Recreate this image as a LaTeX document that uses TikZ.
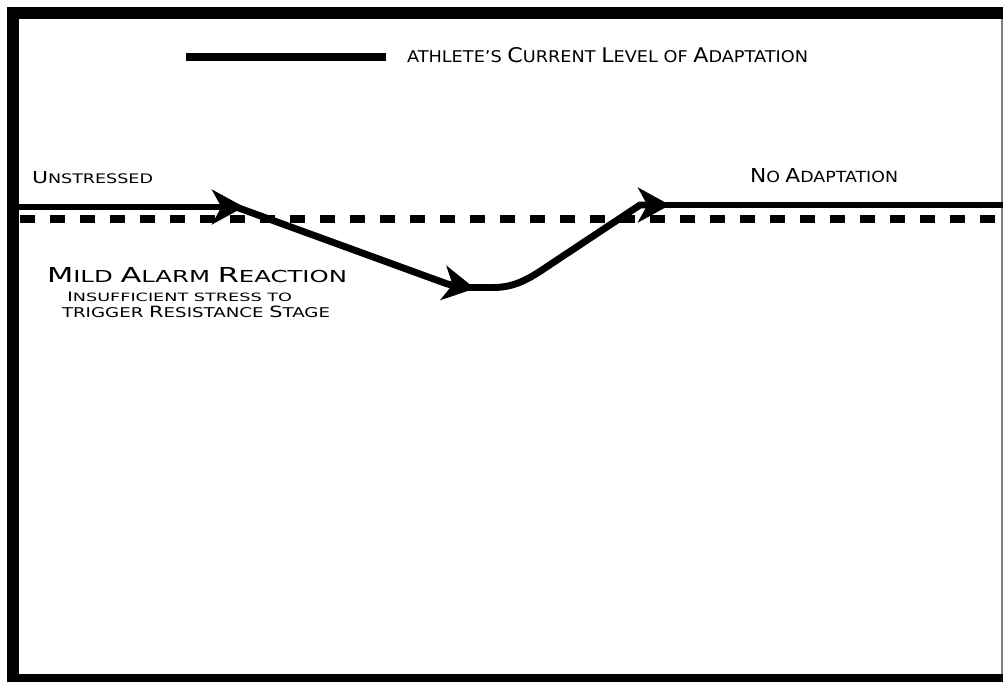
\documentclass[tikz,border=0pt]{standalone}
\usepackage{fontspec}
\setmainfont{DejaVu Sans}
\usetikzlibrary{arrows.meta}
\newlength\pxu
\setlength\pxu{0.75pt}
\newcommand\scsize{8pt}
\newcommand\SCx[2]{{\fontsize{10pt}{10pt}\selectfont #1}{\fontsize{\scsize}{\scsize}\selectfont #2}}
\newcommand\fitbox[3]{\resizebox{#1\pxu}{#2\pxu}{#3}}
\begin{document}
\begin{tikzpicture}[x=0.75pt,y=-0.75pt,
  lbl/.style={inner sep=0pt, outer sep=0pt, anchor=base west},
  trend/.style={line width=5.2pt, draw=black, line join=miter},
  tipr/.style={-{Stealth[length=24pt,width=26pt,inset=7pt]}},
  baseline/.style={line width=5.5pt, draw=black, dash pattern=on 11.25pt off 11.25pt},
  legendline/.style={line width=6pt, draw=black},
  band/.style={fill=black, draw=none}]
\useasboundingbox (0,0) rectangle (1003,682);
\fill[white] (0,0) rectangle (1003,682);
% frame
\fill[band] (7,7) rectangle (1003,19);
\fill[band] (7,7) rectangle (19,682);
\fill[band] (7,674) rectangle (1003,682);
\draw[gray, line width=0.9pt] (1002,19) -- (1002,674);
% legend
\coordinate (legA) at (186,57);
\coordinate (legB) at (386,57);
\draw[legendline] (legA) -- (legB);
\node[lbl] (legtext) at (407,62) {\fitbox{401}{15}{\SCx{}{ATHLETE’S }\SCx{C}{URRENT }\SCx{L}{EVEL OF }\SCx{A}{DAPTATION}}};
% dashed baseline
\coordinate (dA) at (20,219);
\coordinate (dB) at (1003,219);
\draw[baseline] (dA) -- (dB);
% trend path
\coordinate (p0) at (19,207);
\coordinate (p1) at (244,207);
\coordinate (p1s) at (236,207);
\coordinate (p2) at (446,283.5);
\coordinate (p3) at (475,288.5);
\coordinate (p3s) at (466,287.5);
\coordinate (p4) at (493,287.5);
\coordinate (p5) at (548,266);
\coordinate (p6) at (640,205);
\coordinate (p7) at (670,205);
\coordinate (p7s) at (660,205);
\coordinate (p8) at (1003,205);
\draw[trend,tipr] (p0) -- (p1);
\draw[trend,tipr] (p1s) -- (p2) .. controls (454,286.2) and (462,286.2) .. (p3);
\draw[trend,tipr] (p3s) -- (p4) .. controls (513,287.5) and (527,280.5) .. (p5) -- (p6) -- (p7);
\draw[trend] (p7s) -- (p8);
% labels
\node[lbl] (unstr) at (32,183) {\fitbox{121}{12}{\SCx{U}{NSTRESSED}}};
\node[lbl] (noad) at (750,182) {\fitbox{148}{14}{\SCx{N}{O }\SCx{A}{DAPTATION}}};
\node[lbl] (mild) at (47,282) {\fitbox{300}{15}{\SCx{M}{ILD }\SCx{A}{LARM }\SCx{R}{EACTION}}};
\node[lbl] (insuf) at (67,301) {\renewcommand\scsize{8.8pt}\fitbox{225}{9.5}{\SCx{I}{NSUFFICIENT STRESS TO}}};
\node[lbl] (trig) at (62,317) {\renewcommand\scsize{8.7pt}\fitbox{268}{11.5}{\SCx{}{TRIGGER }\SCx{R}{ESISTANCE }\SCx{S}{TAGE}}};
\end{tikzpicture}
\end{document}
